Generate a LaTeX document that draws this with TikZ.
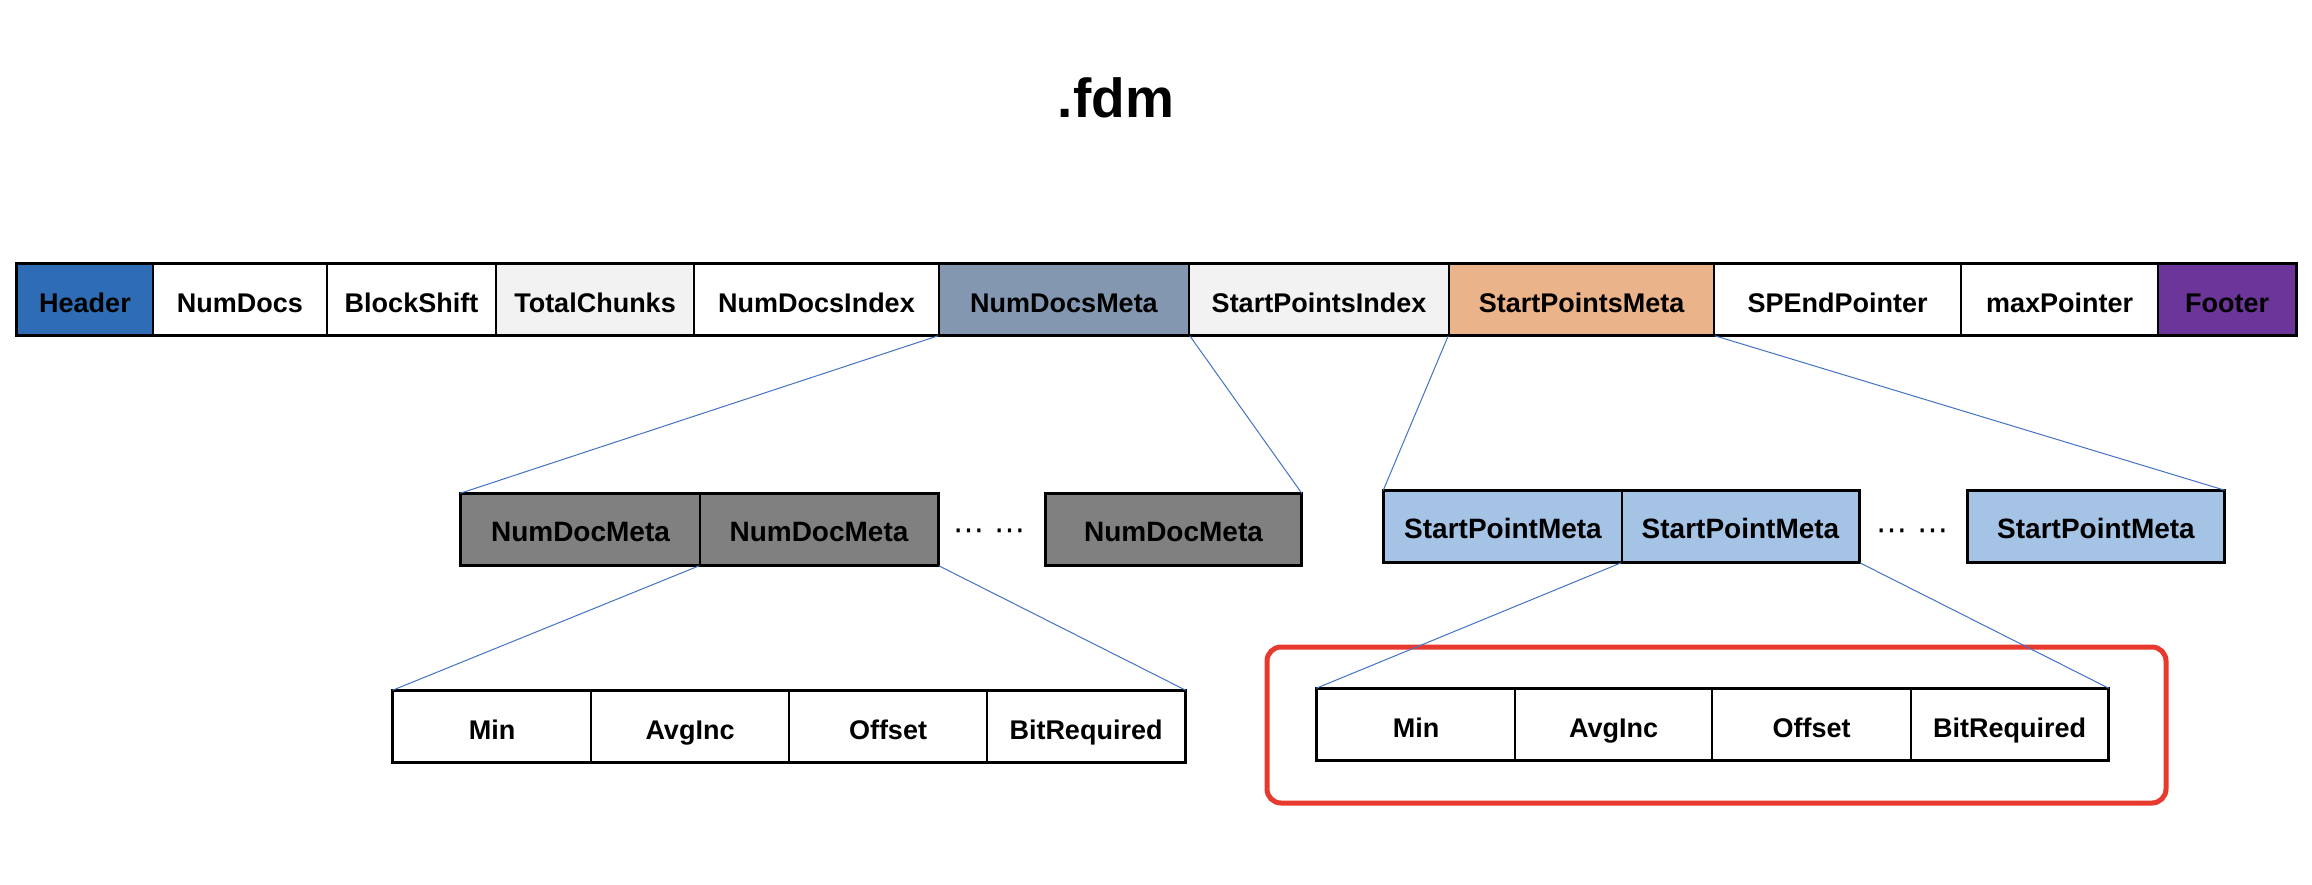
\documentclass[tikz,border=0pt]{standalone}
\usepackage{fontspec}
\setmainfont{Liberation Sans}
\newfontfamily\dotsfont{DejaVu Sans}
\definecolor{hdrblue}{HTML}{2E6DB6}
\definecolor{slate}{HTML}{8497B0}
\definecolor{lightgr}{HTML}{F2F2F2}
\definecolor{peach}{HTML}{EBB38A}
\definecolor{purp}{HTML}{6B3599}
\definecolor{midgray}{HTML}{808080}
\definecolor{skyblue}{HTML}{A5C3E4}
\definecolor{linkblue}{HTML}{4472C4}
\definecolor{alertred}{HTML}{E8392E}
\tikzset{
  cell/.style={draw=black, line width=1.5pt, inner sep=0pt, minimum height=71pt,
               font=\fontsize{27}{30}\selectfont\bfseries,
               text height=25pt, text depth=0pt},
  midcell/.style={cell, font=\fontsize{28}{32}\selectfont\bfseries,
               text height=23pt, text depth=0pt},
  fieldcell/.style={cell, text height=26.4pt, text depth=0pt},
  outline/.style={draw=black, line width=2.8pt},
  link/.style={draw=linkblue, line width=1pt},
  dotsnode/.style={font=\dotsfont\fontsize{31}{34}\selectfont, inner sep=0pt, anchor=base}
}
\begin{document}
\begin{tikzpicture}[x=1pt, y=-1pt]
\useasboundingbox[fill=white] (0,0) rectangle (2312,884);

% title
\node[font=\fontsize{55}{60}\selectfont\bfseries, anchor=base] (title) at (1116,117) {.fdm};

% file layout row
\node[cell, fill=hdrblue,  minimum width=136pt] (hdr)  at (85,299.5)    {Header};
\node[cell, fill=white,    minimum width=174pt] (nd)   at (240,299.5)   {NumDocs};
\node[cell, fill=white,    minimum width=169pt] (bs)   at (411.5,299.5) {BlockShift};
\node[cell, fill=lightgr,  minimum width=198pt] (tc)   at (595,299.5)   {TotalChunks};
\node[cell, fill=white,    minimum width=245pt] (ndi)  at (816.5,299.5) {NumDocsIndex};
\node[cell, fill=slate,    minimum width=250pt] (ndm)  at (1064,299.5)  {NumDocsMeta};
\node[cell, fill=lightgr,  minimum width=260pt] (spi)  at (1319,299.5)  {StartPointsIndex};
\node[cell, fill=peach,    minimum width=265pt] (spm)  at (1581.5,299.5){StartPointsMeta};
\node[cell, fill=white,    minimum width=247pt] (spe)  at (1837.5,299.5){SPEndPointer};
\node[cell, fill=white,    minimum width=197pt] (mxp)  at (2059.5,299.5){maxPointer};
\node[cell, fill=purp,     minimum width=138pt] (ftr)  at (2227,299.5)  {Footer};
\draw[outline] (hdr.north west) rectangle (ftr.south east);

% NumDocMeta entries
\node[midcell, fill=midgray, minimum width=239pt] (a1) at (580.5,529.5)  {NumDocMeta};
\node[midcell, fill=midgray, minimum width=238pt] (a2) at (819,529.5)    {NumDocMeta};
\node[midcell, fill=midgray, minimum width=255pt] (a3) at (1173.5,529.5) {NumDocMeta};
\draw[outline] (a1.north west) rectangle (a2.south east);
\draw[outline] (a3.north west) rectangle (a3.south east);
\node[dotsnode] (adots) at (989.5,540) {⋯ ⋯};

% StartPointMeta entries
\node[midcell, fill=skyblue, minimum width=238pt] (b1) at (1503,526.5)   {StartPointMeta};
\node[midcell, fill=skyblue, minimum width=237pt] (b2) at (1740.5,526.5) {StartPointMeta};
\node[midcell, fill=skyblue, minimum width=256pt] (b3) at (2096,526.5)   {StartPointMeta};
\draw[outline] (b1.north west) rectangle (b2.south east);
\draw[outline] (b3.north west) rectangle (b3.south east);
\node[dotsnode] (bdots) at (1912.5,540) {⋯ ⋯};

% NumDocMeta fields
\node[fieldcell, fill=white, minimum width=197.5pt] (c1) at (492,726.5)  {Min};
\node[fieldcell, fill=white, minimum width=198pt]   (c2) at (690,726.5)  {AvgInc};
\node[fieldcell, fill=white, minimum width=198pt]   (c3) at (888,726.5)  {Offset};
\node[fieldcell, fill=white, minimum width=198pt]   (c4) at (1086,726.5) {BitRequired};
\draw[outline] (c1.north west) rectangle (c4.south east);

% StartPointMeta fields
\node[fieldcell, fill=white, minimum width=198pt] (d1) at (1416,724.5)   {Min};
\node[fieldcell, fill=white, minimum width=197pt] (d2) at (1613.5,724.5) {AvgInc};
\node[fieldcell, fill=white, minimum width=199pt] (d3) at (1811.5,724.5) {Offset};
\node[fieldcell, fill=white, minimum width=197pt] (d4) at (2009.5,724.5) {BitRequired};
\draw[outline] (d1.north west) rectangle (d4.south east);

% highlight frame
\draw[alertred, line width=5pt, rounded corners=14pt] (1267,647) rectangle (2166,803);

% zoom-out connectors
\draw[link] (ndm.south west) -- (a1.north west);
\draw[link] (ndm.south east) -- (a3.north east);
\draw[link] (spm.south west) -- (b1.north west);
\draw[link] (spm.south east) -- (b3.north east);
\draw[link] (a2.south west) -- (c1.north west);
\draw[link] (a2.south east) -- (c4.north east);
\draw[link] (b2.south west) -- (d1.north west);
\draw[link] (b2.south east) -- (d4.north east);
\end{tikzpicture}
\end{document}
